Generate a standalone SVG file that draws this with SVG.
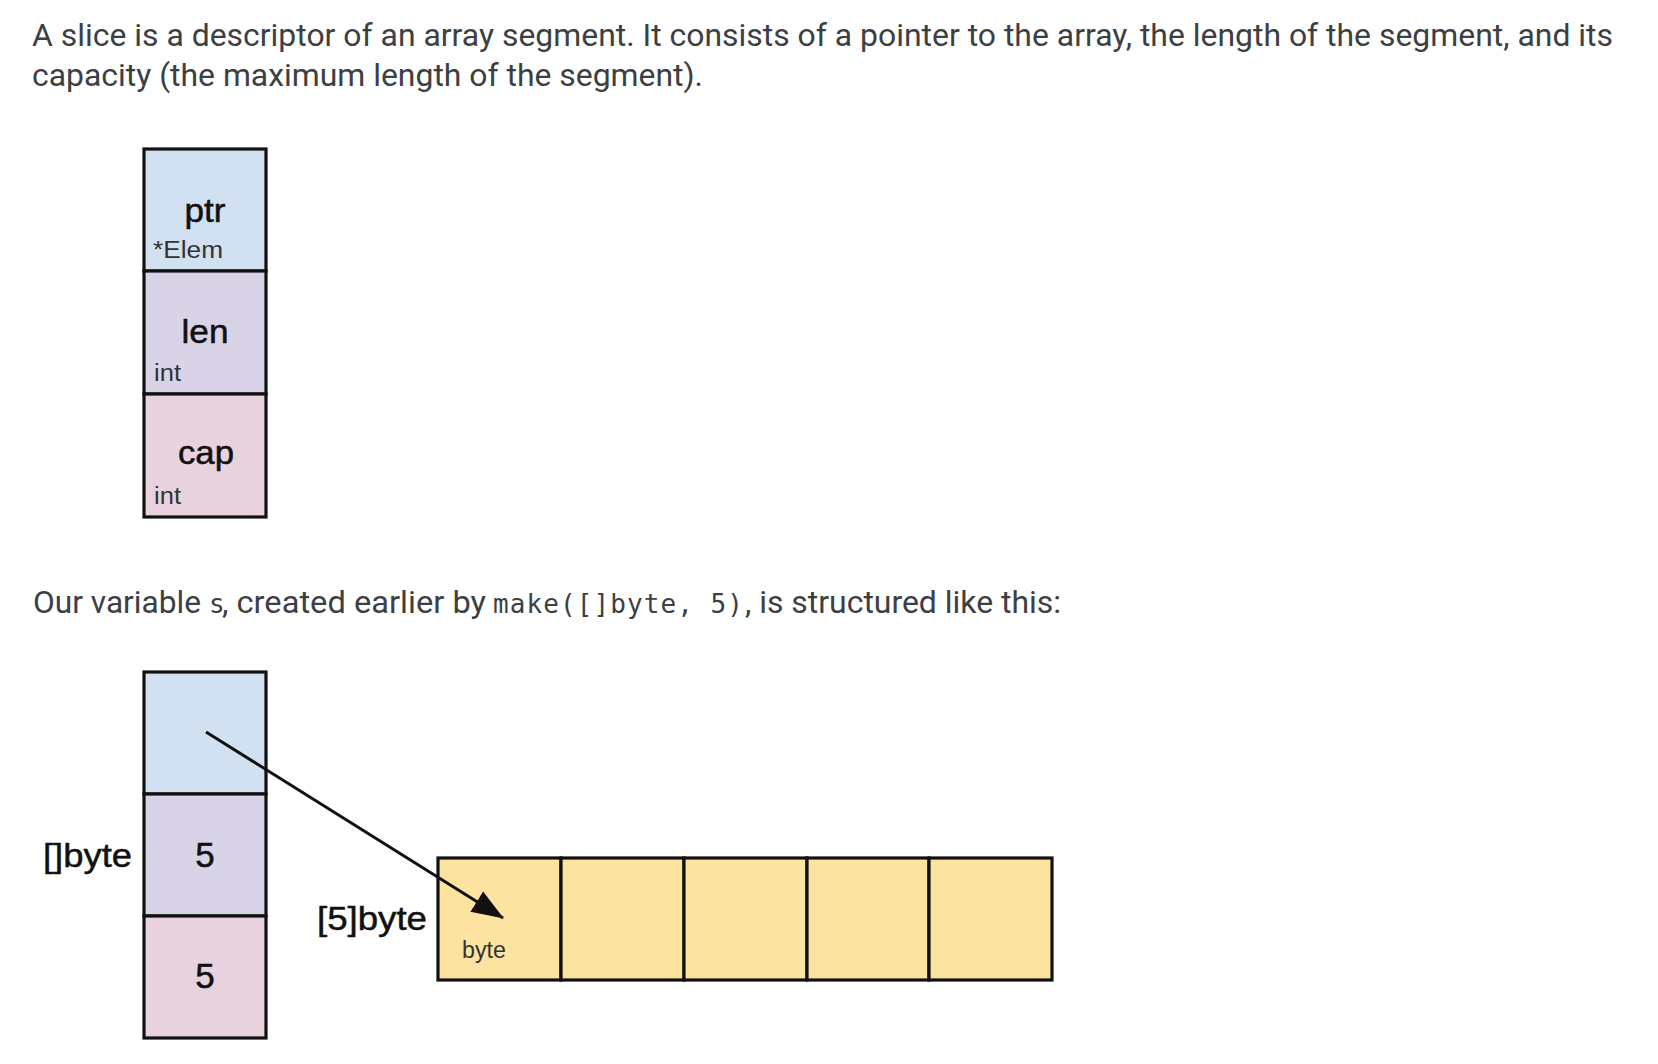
<svg xmlns="http://www.w3.org/2000/svg" width="1658" height="1064" viewBox="0 0 1658 1064">
<style>
.body{font-family:Roboto,"Liberation Sans",sans-serif;font-size:31.5px;fill:#3c4043}
.mono{font-family:"DejaVu Sans Mono","Liberation Mono",monospace;font-size:26px;fill:#3c4043}
.cell{stroke:#111;stroke-width:3.2}
.blue{fill:#d1e1f2}
.purple{fill:#d9d3e8}
.pink{fill:#e8d2de}
.yellow{fill:#fce4a0}
.lbl{font-family:"Liberation Sans",Arial,sans-serif;font-size:33px;fill:#111;stroke:#111;stroke-width:0.5}
.num{font-size:35px}
.sm{font-family:"Liberation Sans",Arial,sans-serif;font-size:23px;fill:#333}
</style>
<defs>
<marker id="ah" markerUnits="userSpaceOnUse" markerWidth="32" markerHeight="26" viewBox="0 0 32 26" refX="31" refY="13" orient="auto">
<path d="M0,1 L32,13 L0,25 Z" fill="#111"/>
</marker>
</defs>
<rect width="1658" height="1064" fill="#fff"/>
<text class="body" x="32" y="46" textLength="1581" lengthAdjust="spacingAndGlyphs">A slice is a descriptor of an array segment. It consists of a pointer to the array, the length of the segment, and its</text>
<text class="body" x="32" y="86" textLength="671" lengthAdjust="spacingAndGlyphs">capacity (the maximum length of the segment).</text>

<g id="slice-struct">
<rect class="cell blue" x="144" y="149" width="122" height="122"/>
<rect class="cell purple" x="144" y="271" width="122" height="123"/>
<rect class="cell pink" x="144" y="394" width="122" height="123"/>
<text class="lbl" x="205" y="222" text-anchor="middle" textLength="41" lengthAdjust="spacingAndGlyphs">ptr</text>
<text class="sm" x="153" y="258" textLength="70" lengthAdjust="spacingAndGlyphs">*Elem</text>
<text class="lbl" x="205" y="343" text-anchor="middle" textLength="47" lengthAdjust="spacingAndGlyphs">len</text>
<text class="sm" x="154" y="381" textLength="27" lengthAdjust="spacingAndGlyphs">int</text>
<text class="lbl" x="206" y="464" text-anchor="middle" textLength="56" lengthAdjust="spacingAndGlyphs">cap</text>
<text class="sm" x="154" y="504" textLength="27" lengthAdjust="spacingAndGlyphs">int</text>
</g>

<text class="body" y="613"><tspan x="33" textLength="168" lengthAdjust="spacingAndGlyphs">Our variable</tspan><tspan class="mono" x="209">s</tspan><tspan x="222" textLength="264" lengthAdjust="spacingAndGlyphs">, created earlier by</tspan><tspan class="mono" x="493" textLength="250" lengthAdjust="spacing">make([]byte, 5)</tspan><tspan x="745" textLength="316" lengthAdjust="spacingAndGlyphs">, is structured like this:</tspan></text>

<g id="s-slice">
<rect class="cell blue" x="144" y="672" width="122" height="122"/>
<rect class="cell purple" x="144" y="794" width="122" height="122"/>
<rect class="cell pink" x="144" y="916" width="122" height="122"/>
<text class="lbl" x="43" y="867" textLength="89" lengthAdjust="spacingAndGlyphs">[]byte</text>
<text class="lbl num" x="205" y="867" text-anchor="middle">5</text>
<text class="lbl num" x="205" y="988" text-anchor="middle">5</text>
</g>

<g id="byte-array">
<rect class="cell yellow" x="438" y="858" width="123" height="122"/>
<rect class="cell yellow" x="561" y="858" width="123" height="122"/>
<rect class="cell yellow" x="684" y="858" width="123" height="122"/>
<rect class="cell yellow" x="807" y="858" width="122" height="122"/>
<rect class="cell yellow" x="929" y="858" width="123" height="122"/>
<text class="lbl" x="317" y="930" textLength="110" lengthAdjust="spacingAndGlyphs">[5]byte</text>
<text class="sm" x="462" y="958" textLength="44" lengthAdjust="spacingAndGlyphs">byte</text>
</g>

<g id="connectors">
<line x1="206" y1="732" x2="503" y2="918" stroke="#111" stroke-width="3" marker-end="url(#ah)"/>
</g>
</svg>
